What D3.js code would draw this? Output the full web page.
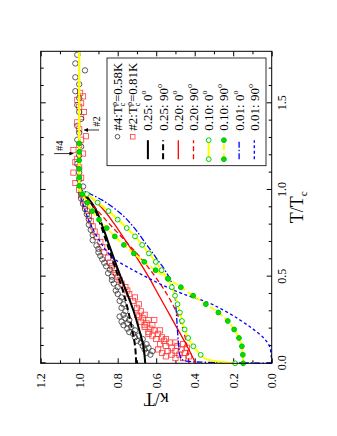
<!DOCTYPE html>
<html>
<head>
<meta charset="utf-8">
<script src="https://cdn.jsdelivr.net/npm/d3@7"></script>
<style>
  body { margin: 0; background: #fff; }
  svg { font-family: "Liberation Serif", "DejaVu Serif", serif; }
</style>
</head>
<body>
<div class="chart"></div>
<script>
// ticks
const tMajor = [0, 0.5, 1.0, 1.5];
const tMinor = [0.1, 0.2, 0.3, 0.4, 0.6, 0.7, 0.8, 0.9, 1.1, 1.2, 1.3, 1.4, 1.6, 1.7];
const kMajor = [0, 0.2, 0.4, 0.6, 0.8, 1.0, 1.2];
const kMinor = [0.1, 0.3, 0.5, 0.7, 0.9, 1.1];

// measured data [T/Tc, kappa/T]
const sample4 = [[0.05,0.63],[0.06,0.65],[0.07,0.62],[0.08,0.66],[0.09,0.64],[0.10,0.67],[0.11,0.65],[0.12,0.68],
  [0.13,0.70],[0.14,0.67],[0.15,0.71],[0.16,0.69],[0.17,0.72],[0.18,0.74],[0.19,0.71],[0.20,0.75],[0.21,0.73],
  [0.22,0.77],[0.23,0.75],[0.24,0.78],[0.25,0.74],[0.26,0.76],[0.27,0.79],[0.28,0.77],[0.30,0.76],[0.32,0.78],
  [0.34,0.77],[0.36,0.79],[0.38,0.78],[0.40,0.80],[0.42,0.81],[0.44,0.80],[0.46,0.82],[0.48,0.83],[0.50,0.83],
  [0.52,0.85],[0.54,0.84],[0.56,0.86],[0.58,0.87],[0.60,0.88],[0.62,0.89],[0.64,0.90],[0.66,0.90],[0.68,0.91],
  [0.71,0.93],[0.74,0.93],[0.77,0.94],[0.80,0.95],[0.83,0.95],[0.86,0.96],[0.89,0.97],[0.92,0.98],[0.95,0.99],
  [0.98,0.99],[1.02,0.98],[1.06,1.00],[1.10,1.00],[1.15,1.01],[1.20,1.00],[1.25,0.99],[1.29,1.01],[1.33,1.00],
  [1.37,1.01],[1.41,0.99],[1.45,1.00],[1.49,1.01],[1.53,1.00],[1.57,1.02],[1.61,1.00],[1.65,1.02],[1.69,0.97],
  [1.73,1.02],[1.78,1.01]];

const sample2 = [[0.03,0.50],[0.03,0.46],[0.04,0.55],[0.04,0.43],[0.05,0.52],[0.05,0.48],[0.06,0.57],[0.06,0.45],
  [0.07,0.50],[0.07,0.54],[0.08,0.47],[0.08,0.59],[0.09,0.52],[0.09,0.44],[0.10,0.55],[0.10,0.49],[0.11,0.58],
  [0.11,0.46],[0.12,0.53],[0.12,0.50],[0.13,0.56],[0.14,0.60],[0.14,0.55],[0.15,0.57],[0.16,0.62],[0.17,0.59],
  [0.17,0.64],[0.18,0.64],[0.19,0.61],[0.19,0.58],[0.20,0.63],[0.21,0.66],[0.22,0.62],[0.22,0.66],[0.23,0.65],
  [0.24,0.68],[0.25,0.64],[0.25,0.61],[0.26,0.67],[0.27,0.69],[0.28,0.66],[0.28,0.70],[0.30,0.68],[0.32,0.70],
  [0.34,0.69],[0.36,0.72],[0.38,0.71],[0.40,0.74],[0.42,0.75],[0.44,0.76],[0.46,0.78],[0.48,0.79],[0.50,0.80],
  [0.52,0.81],[0.54,0.82],[0.56,0.83],[0.58,0.84],[0.61,0.85],[0.64,0.87],[0.67,0.88],[0.70,0.89],[0.73,0.91],
  [0.76,0.92],[0.79,0.93],[0.82,0.94],[0.85,0.95],[0.88,0.96],[0.91,0.97],[0.94,0.98],[0.97,0.99],[1.00,1.00],
  [1.04,1.02],[1.07,0.99],[1.10,1.03],[1.13,1.00],[1.16,1.02],[1.18,1.01],[1.21,0.98],[1.23,1.03],[1.26,1.00],
  [1.29,0.99],[1.31,0.965],[1.35,1.00],[1.39,1.01],[1.42,0.99],[1.45,0.975],[1.48,1.00],[1.50,0.99],[1.52,1.01],
  [1.54,0.98],[1.56,0.995]];

// model curves
const m25_0 = [[0,0.657],[0.1,0.667],[0.2,0.69],[0.3,0.717],[0.4,0.75],[0.5,0.785],[0.6,0.818],[0.7,0.85],
  [0.8,0.882],[0.9,0.92],[0.95,0.952],[1.0,1.0]];
const m25_90 = [[0,0.704],[0.1,0.71],[0.2,0.726],[0.3,0.745],[0.4,0.768],[0.5,0.797],[0.6,0.828],[0.7,0.858],
  [0.8,0.889],[0.9,0.925],[0.95,0.955],[1.0,1.0]];
const m20_0 = [[0,0.395],[0.1,0.44],[0.2,0.49],[0.3,0.54],[0.4,0.59],[0.5,0.64],[0.6,0.695],[0.7,0.755],
  [0.8,0.815],[0.9,0.885],[0.95,0.93],[1.0,1.0]];
const m20_90 = [[0,0.43],[0.1,0.44],[0.2,0.462],[0.3,0.497],[0.4,0.545],[0.5,0.605],[0.6,0.675],[0.7,0.755],
  [0.8,0.84],[0.9,0.92],[0.95,0.96],[1.0,1.0]];
const m10_0 = [[0,0.19],[0.01,0.28],[0.02,0.33],[0.03,0.35],[0.049,0.369],[0.098,0.407],[0.146,0.434],[0.195,0.452],
  [0.244,0.466],[0.293,0.477],[0.341,0.489],[0.39,0.502],[0.439,0.519],[0.488,0.54],[0.537,0.572],[0.585,0.602],
  [0.634,0.638],[0.683,0.673],[0.732,0.71],[0.78,0.753],[0.829,0.80],[0.878,0.848],[0.927,0.904],[0.976,0.96],
  [1.0,1.0],[1.8,1.0]];
const m10_0marks = [[0,0.19],[0.049,0.369],[0.098,0.407],[0.146,0.434],[0.195,0.452],[0.244,0.466],[0.293,0.477],
  [0.341,0.489],[0.39,0.502],[0.439,0.519],[0.488,0.54],[0.537,0.572],[0.585,0.602],[0.634,0.638],[0.683,0.673],
  [0.732,0.71],[0.78,0.753],[0.829,0.80],[0.878,0.848],[0.927,0.904],[0.976,0.96]];
const m10_90 = [[0,0.148],[0.049,0.15],[0.098,0.155],[0.146,0.17],[0.195,0.195],[0.244,0.228],[0.293,0.277],
  [0.341,0.342],[0.39,0.408],[0.439,0.472],[0.488,0.537],[0.537,0.603],[0.585,0.662],[0.634,0.716],[0.683,0.768],
  [0.732,0.815],[0.78,0.857],[0.829,0.897],[0.878,0.932],[0.927,0.958],[0.976,0.985],[1.024,1.0],[1.073,1.0],
  [1.122,1.0],[1.171,1.0],[1.22,1.0],[1.268,1.0],[1.8,1.0]];
const m10_90marks = m10_90.slice(0, 27);
const m01_0 = [[0,0],[0.003,0.15],[0.006,0.35],[0.012,0.44],[0.025,0.47],[0.05,0.478],[0.1,0.483],[0.2,0.49],
  [0.3,0.496],[0.4,0.504],[0.45,0.515],[0.5,0.535],[0.55,0.562],[0.6,0.595],[0.65,0.627],[0.7,0.66],[0.75,0.692],
  [0.8,0.728],[0.85,0.77],[0.9,0.825],[0.94,0.878],[0.97,0.93],[0.99,0.97],[1.0,1.0]];
const m01_90 = [[0,0],[0.05,0.003],[0.1,0.012],[0.15,0.045],[0.2,0.1],[0.25,0.165],[0.3,0.24],[0.35,0.33],
  [0.4,0.46],[0.45,0.565],[0.5,0.655],[0.55,0.74],[0.6,0.815],[0.65,0.86],[0.7,0.89],[0.8,0.94],[0.9,0.975],[1.0,1.0]];

const modelLabels = ["0.25: 0", "0.25: 90", "0.20: 0", "0.20: 90", "0.10: 0", "0.10: 90", "0.01: 0", "0.01: 90"];
const sampleLabels = [["#4:T", "=0.58K"], ["#2:T", "=0.81K"]];

const width = 312, height = 231;
const svg = d3.select('.chart').append('svg')
    .attr('width', 337)
    .attr('height', 436);

// whole figure is turned a quarter turn counter-clockwise
const g = svg.append('g')
    .attr('transform', 'translate(40.7,363.3) rotate(-90)');

const x = d3.scaleLinear().domain([0, 1.8]).range([0, width]);
const y = d3.scaleLinear().domain([0, 1.2]).range([height, 0]);

function styleAxis(sel) {
    sel.attr('font-family', null).attr('font-size', 12);
    sel.select('.domain').remove();
    sel.selectAll('line').attr('stroke', '#000');
    sel.selectAll('text').attr('fill', '#000');
}

g.append('g').attr('transform', `translate(0,${height})`)
    .call(d3.axisBottom(x).tickValues(tMajor).tickSize(-5).tickPadding(6).tickFormat(d3.format('.1f')))
    .call(styleAxis);
g.append('g').attr('transform', `translate(0,${height})`)
    .call(d3.axisBottom(x).tickValues(tMinor).tickSize(-3).tickFormat(''))
    .call(styleAxis);
g.append('g')
    .call(d3.axisTop(x).tickValues(tMajor).tickSize(-5).tickFormat(''))
    .call(styleAxis);
g.append('g')
    .call(d3.axisTop(x).tickValues(tMinor).tickSize(-3).tickFormat(''))
    .call(styleAxis);
g.append('g')
    .call(d3.axisLeft(y).tickValues(kMajor).tickSize(-5).tickPadding(10).tickFormat(d3.format('.1f')))
    .call(styleAxis);
g.append('g')
    .call(d3.axisLeft(y).tickValues(kMinor).tickSize(-3).tickFormat(''))
    .call(styleAxis);
g.append('g').attr('transform', `translate(${width},0)`)
    .call(d3.axisRight(y).tickValues(kMajor).tickSize(-5).tickFormat(''))
    .call(styleAxis);
g.append('g').attr('transform', `translate(${width},0)`)
    .call(d3.axisRight(y).tickValues(kMinor).tickSize(-3).tickFormat(''))
    .call(styleAxis);

// axis titles
const xt = g.append('text')
    .attr('x', width / 2)
    .attr('y', height + 31)
    .attr('text-anchor', 'middle')
    .attr('font-size', 18);
xt.append('tspan').text('T/T');
xt.append('tspan').attr('font-size', 11).attr('dy', 4).text('c');

g.append('text')
    .attr('transform', `translate(-30,${height / 2}) rotate(-90)`)
    .attr('text-anchor', 'middle')
    .attr('font-size', 18)
    .text('κ/T');

// data points
const plot = g.append('g');
plot.selectAll('.s2')
    .data(sample2)
    .enter()
    .append('rect')
        .attr('x', d => x(d[0]) - 2.6)
        .attr('y', d => y(d[1]) - 2.6)
        .attr('width', 5.2)
        .attr('height', 5.2)
        .attr('fill', 'none')
        .attr('stroke', '#ff3b3b')
        .attr('stroke-width', 0.8);
plot.selectAll('.s4')
    .data(sample4)
    .enter()
    .append('circle')
        .attr('cx', d => x(d[0]))
        .attr('cy', d => y(d[1]))
        .attr('r', 2.7)
        .attr('fill', 'none')
        .attr('stroke', '#333')
        .attr('stroke-width', 0.8);

const line = d3.line()
    .x(d => x(d[0]))
    .y(d => y(d[1]))
    .curve(d3.curveMonotoneX);

const models = [m25_0, m25_90, m20_0, m20_90, m10_0, m10_90, m01_0, m01_90];
const styles = [
    {color: '#000', dash: null, w: 2},
    {color: '#000', dash: '6,3', w: 2},
    {color: '#ff0000', dash: null, w: 1.3},
    {color: '#ff0000', dash: '5,3', w: 1.3},
    {color: '#ffff00', dash: null, w: 2, mark: 'open'},
    {color: '#ffff00', dash: '6,3', w: 2, mark: 'filled'},
    {color: '#0000ff', dash: '6,2,1.5,2', w: 1.3},
    {color: '#0000ff', dash: '3,2.5', w: 1.3}
];
const order = [0, 1, 2, 3, 6, 7, 4, 5];

order.forEach(i => {
    plot.append('path')
        .attr('d', line(models[i]))
        .attr('fill', 'none')
        .attr('stroke', styles[i].color)
        .attr('stroke-width', styles[i].w)
        .attr('stroke-dasharray', styles[i].dash);
});

function markers(sel, pts, filled) {
    sel.selectAll(null)
        .data(pts)
        .enter()
        .append('circle')
            .attr('cx', d => x(d[0]))
            .attr('cy', d => y(d[1]))
            .attr('r', 2.4)
            .attr('fill', filled ? '#00e000' : '#fff')
            .attr('stroke', filled ? '#00c000' : '#00d000')
            .attr('stroke-width', 1);
}
markers(plot.append('g'), m10_0marks, false);
markers(plot.append('g'), m10_90marks, true);

// frame
g.append('rect')
    .attr('width', width)
    .attr('height', height)
    .attr('fill', 'none')
    .attr('stroke', '#000')
    .attr('stroke-width', 1);

// annotations
svg.append('defs').append('marker')
    .attr('id', 'head')
    .attr('viewBox', '0 0 10 10')
    .attr('refX', 10).attr('refY', 5)
    .attr('markerWidth', 5).attr('markerHeight', 5)
    .attr('orient', 'auto')
    .append('path').attr('d', 'M0,0L10,5L0,10z').attr('fill', '#000');

g.append('line')
    .attr('x1', x(1.21)).attr('x2', x(1.21))
    .attr('y1', y(1.13)).attr('y2', y(1.03))
    .attr('stroke', '#000').attr('stroke-width', 0.8)
    .attr('marker-end', 'url(#head)');
g.append('text')
    .attr('x', x(1.225)).attr('y', y(1.085))
    .attr('font-size', 10.5)
    .text('#4');
g.append('line')
    .attr('x1', x(1.346)).attr('x2', x(1.346))
    .attr('y1', y(0.897)).attr('y2', y(0.975))
    .attr('stroke', '#000').attr('stroke-width', 0.8)
    .attr('marker-end', 'url(#head)');
g.append('text')
    .attr('x', x(1.365)).attr('y', y(0.89))
    .attr('font-size', 10.5)
    .text('#2');

// legend
const lx = 197.6, ly = 66.3;
const legend = g.append('g');
legend.append('rect')
    .attr('x', lx).attr('y', ly)
    .attr('width', 107.7).attr('height', 159)
    .attr('fill', '#fff')
    .attr('stroke', '#000')
    .attr('stroke-width', 0.8);

const rowY = i => ly + 10.5 + i * 15.2;
const s0 = lx + 6.5, s1 = lx + 25.5, tx = lx + 35;

sampleLabels.forEach((lab, i) => {
    const yy = rowY(i);
    if (i === 0) {
        legend.append('circle').attr('cx', lx + 29).attr('cy', yy).attr('r', 2.3)
            .attr('fill', 'none').attr('stroke', '#333').attr('stroke-width', 0.8);
    } else {
        legend.append('rect').attr('x', lx + 26.7).attr('y', yy - 2.3).attr('width', 4.6).attr('height', 4.6)
            .attr('fill', 'none').attr('stroke', '#ff3b3b').attr('stroke-width', 0.8);
    }
    const t = legend.append('text').attr('x', tx).attr('y', yy).attr('dy', '0.35em').attr('font-size', 13);
    t.append('tspan').text(lab[0]);
    t.append('tspan').attr('font-size', 8).attr('dy', 3).text('c');
    t.append('tspan').attr('font-size', 8).attr('dx', -3.5).attr('dy', -8).text('ρ');
    t.append('tspan').attr('dy', 5).text(lab[1]);
});

modelLabels.forEach((lab, j) => {
    const yy = rowY(j + 2);
    const st = styles[j];
    legend.append('line')
        .attr('x1', s0).attr('x2', s1).attr('y1', yy).attr('y2', yy)
        .attr('stroke', st.color).attr('stroke-width', st.w)
        .attr('stroke-dasharray', st.dash);
    if (st.mark) {
        markers(legend.append('g'), [[x.invert(s0), y.invert(yy)], [x.invert(s1), y.invert(yy)]], st.mark === 'filled');
    }
    const t = legend.append('text').attr('x', tx).attr('y', yy).attr('dy', '0.35em').attr('font-size', 13);
    t.append('tspan').text(lab);
    t.append('tspan').attr('font-size', 8).attr('dy', -6).text('o');
});
</script>
</body>
</html>
